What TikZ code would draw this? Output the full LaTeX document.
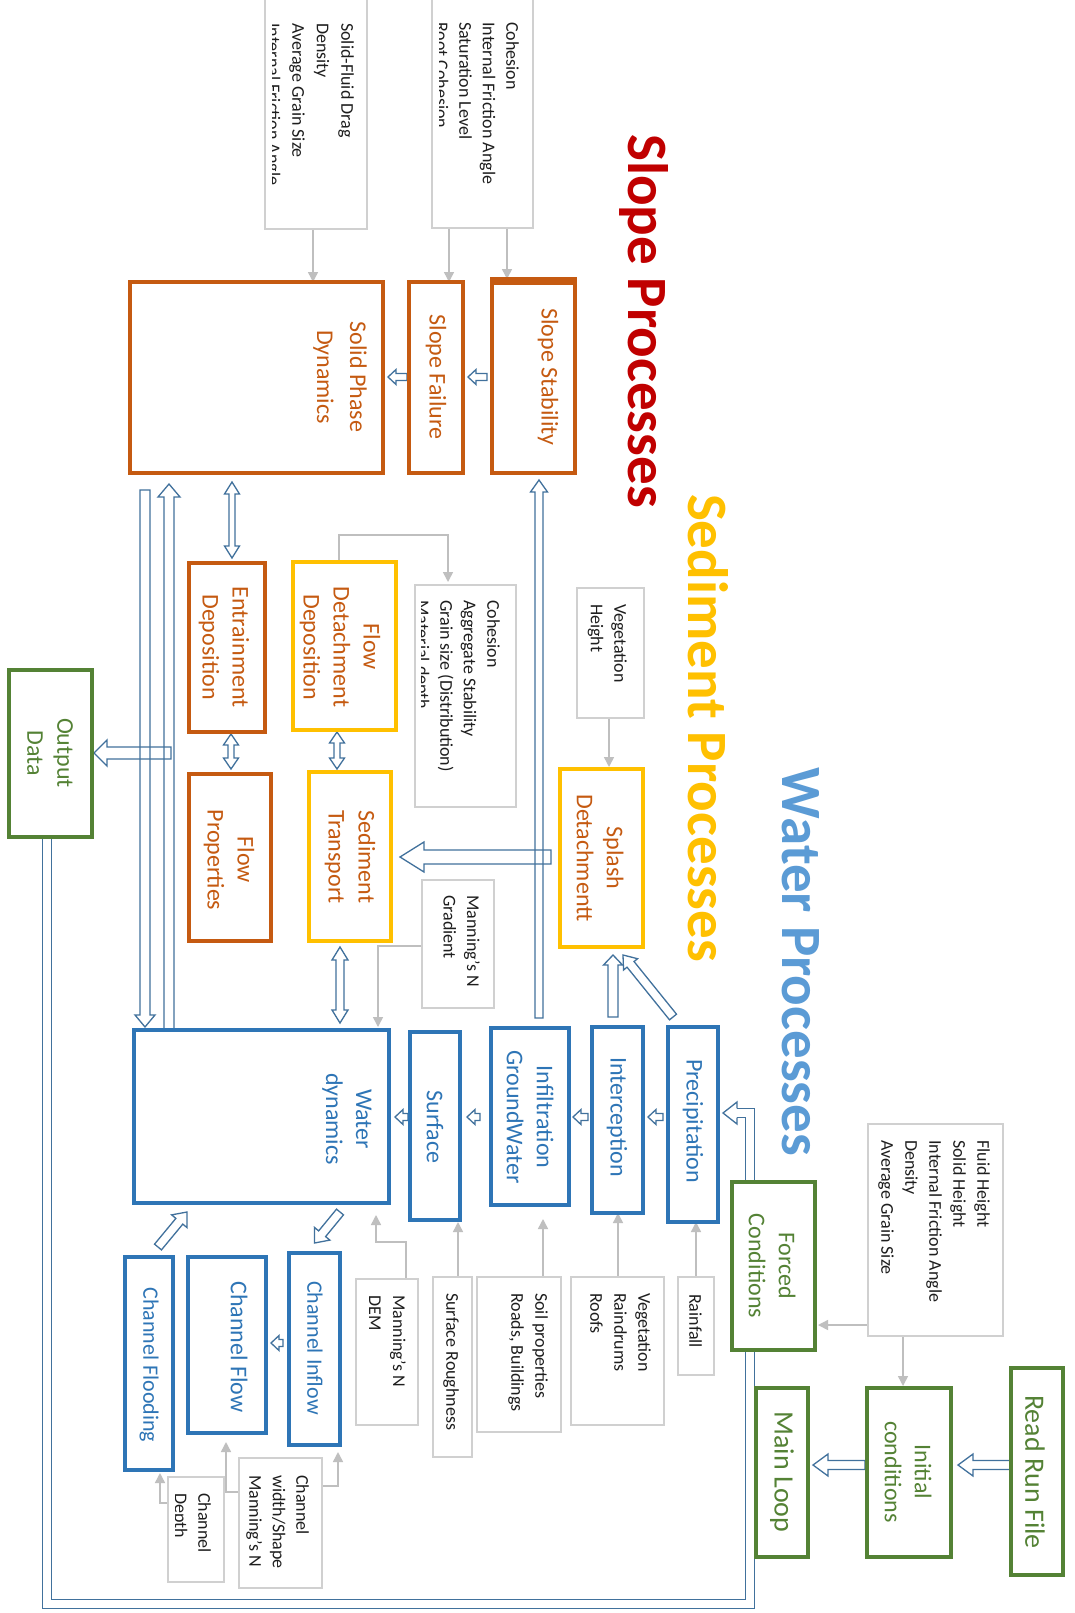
\documentclass[tikz,border=0pt]{standalone}
\usepackage{fontspec}
\setmainfont{Carlito}
\usetikzlibrary{calc,arrows.meta}
\pgfdeclarelayer{bg}
\pgfsetlayers{bg,main}
\definecolor{orC}{HTML}{C55A11}
\definecolor{yeC}{HTML}{FFC000}
\definecolor{blC}{HTML}{2E75B6}
\definecolor{grC}{HTML}{548235}
\definecolor{arC}{HTML}{41719C}
\definecolor{gyL}{HTML}{BFBFBF}
\definecolor{gyB}{HTML}{D0D0D0}
\definecolor{txD}{HTML}{1E1E1E}
\definecolor{slC}{HTML}{C00000}
\definecolor{waC}{HTML}{5B9BD5}
\tikzset{
 cbox/.style={draw=#1, line width=4pt, fill=white, inner sep=0pt, outer sep=0pt, rectangle},
 pbox/.style={draw=gyB, line width=1.2pt, fill=white, inner sep=0pt, outer sep=0pt, rectangle},
 lbl/.style={rotate=-90, inner sep=0pt, align=center, font=\fontsize{24}{30}\selectfont, text=#1},
 ptext/.style={rotate=-90, inner sep=0pt, align=left, anchor=north west, font=\fontsize{18}{23.5}\selectfont, text=txD},
 ttl/.style={rotate=-90, inner sep=0pt, font=\fontsize{57}{60}\selectfont\bfseries, text=#1},
 garrow/.style={draw=gyL, line width=1.5pt, -{Triangle[length=10pt,width=10pt]}},
 hline/.style={draw=arC, line width=1.3pt, line join=miter},
 dline/.style={draw=arC, line width=1.3pt, double=white, double distance=8pt, line join=miter},
}
\newcommand\boxat[6]{\node[#1, minimum width={#4-(#3)}, minimum height={#6-(#5)}] (#2) at ({(#3+#4)/2},{(#5+#6)/2}) {};}
% hollow arrow: start, end, shaft half, head half, head length, gap start, gap end
\newcommand\harrow[7]{%
\draw[hline] let \p1=#1, \p2=#2, \n1={veclen(\x2-\x1,\y2-\y1)}, \n2={(\x2-\x1)/\n1}, \n3={(\y2-\y1)/\n1} in
  ({\x1+#6*\n2-#3*\n3},{\y1+#6*\n3+#3*\n2}) --
  ({\x1+(\n1-#7-#5)*\n2-#3*\n3},{\y1+(\n1-#7-#5)*\n3+#3*\n2}) --
  ({\x1+(\n1-#7-#5)*\n2-#4*\n3},{\y1+(\n1-#7-#5)*\n3+#4*\n2}) --
  ({\x1+(\n1-#7)*\n2},{\y1+(\n1-#7)*\n3}) --
  ({\x1+(\n1-#7-#5)*\n2+#4*\n3},{\y1+(\n1-#7-#5)*\n3-#4*\n2}) --
  ({\x1+(\n1-#7-#5)*\n2+#3*\n3},{\y1+(\n1-#7-#5)*\n3-#3*\n2}) --
  ({\x1+#6*\n2+#3*\n3},{\y1+#6*\n3-#3*\n2}) -- cycle;}
\newcommand\dharrow[7]{%
\draw[hline] let \p1=#1, \p2=#2, \n1={veclen(\x2-\x1,\y2-\y1)}, \n2={(\x2-\x1)/\n1}, \n3={(\y2-\y1)/\n1}, \n4={#6}, \n5={\n1-#7} in
  ({\x1+\n4*\n2},{\y1+\n4*\n3}) --
  ({\x1+(\n4+#5)*\n2-#4*\n3},{\y1+(\n4+#5)*\n3+#4*\n2}) --
  ({\x1+(\n4+#5)*\n2-#3*\n3},{\y1+(\n4+#5)*\n3+#3*\n2}) --
  ({\x1+(\n5-#5)*\n2-#3*\n3},{\y1+(\n5-#5)*\n3+#3*\n2}) --
  ({\x1+(\n5-#5)*\n2-#4*\n3},{\y1+(\n5-#5)*\n3+#4*\n2}) --
  ({\x1+\n5*\n2},{\y1+\n5*\n3}) --
  ({\x1+(\n5-#5)*\n2+#4*\n3},{\y1+(\n5-#5)*\n3-#4*\n2}) --
  ({\x1+(\n5-#5)*\n2+#3*\n3},{\y1+(\n5-#5)*\n3-#3*\n2}) --
  ({\x1+(\n4+#5)*\n2+#3*\n3},{\y1+(\n4+#5)*\n3-#3*\n2}) --
  ({\x1+(\n4+#5)*\n2+#4*\n3},{\y1+(\n4+#5)*\n3-#4*\n2}) -- cycle;}
\begin{document}
\begin{tikzpicture}[x=1pt,y=-1pt]
\begin{pgfonlayer}{bg}
\fill[white] (0,0) rectangle (1074,1613);
\end{pgfonlayer}
\useasboundingbox (0,0) rectangle (1074,1613);

% titles
\node[ttl=slC] (tSlope) at (644,321) {Slope Processes};
\node[ttl=yeC] (tSed) at (708,728) {Sediment Processes};
\node[ttl=waC] (tWater) at (801,962) {Water Processes};

% coloured boxes
\boxat{cbox=orC}{spd}{130}{383}{282}{473}
\boxat{cbox=orC}{sf}{409}{463}{282}{473}
\boxat{cbox=orC}{ss}{492}{575}{279}{473}
\draw[draw=orC, line width=8pt] ([xshift=-2pt,yshift=-2pt]ss.north west) -- ([xshift=2pt,yshift=-2pt]ss.north east);
\boxat{cbox=orC}{ed}{189}{265}{563}{732}
\boxat{cbox=yeC}{fdd}{293}{396}{562}{730}
\boxat{cbox=orC}{fp}{189}{271}{774}{941}
\boxat{cbox=yeC}{st}{309}{391}{772}{941}
\boxat{cbox=yeC}{sd}{560}{643}{769}{947}
\boxat{cbox=grC}{od}{9}{92}{670}{837}
\boxat{cbox=blC}{pr}{668}{718}{1027}{1222}
\boxat{cbox=blC}{ic}{592}{643}{1027}{1213}
\boxat{cbox=blC}{ig}{491}{569}{1028}{1205}
\boxat{cbox=blC}{su}{410}{460}{1032}{1220}
\boxat{cbox=blC}{wd}{134}{389}{1030}{1203}
\boxat{cbox=grC}{fc}{732}{815}{1182}{1350}
\boxat{cbox=grC}{rr}{1011}{1063}{1368}{1575}
\boxat{cbox=grC}{ini}{867}{951}{1388}{1557}
\boxat{cbox=grC}{ml}{756}{808}{1388}{1557}
\boxat{cbox=blC}{ci}{289}{340}{1253}{1445}
\boxat{cbox=blC}{cf}{188}{266}{1257}{1433}
\boxat{cbox=blC}{cfl}{125}{173}{1257}{1470}

% parameter boxes
\boxat{pbox}{pA}{265}{367}{-5}{229}
\boxat{pbox}{pB}{432}{533}{-5}{228}
\boxat{pbox}{pC}{415}{516}{585}{807}
\boxat{pbox}{pV}{577}{644}{588}{718}
\boxat{pbox}{pM}{422}{494}{880}{1008}
\boxat{pbox}{pF}{868}{1003}{1124}{1336}
\boxat{pbox}{pR}{678}{714}{1277}{1375}
\boxat{pbox}{pVR}{571}{664}{1277}{1425}
\boxat{pbox}{pS}{477}{561}{1277}{1432}
\boxat{pbox}{pSR}{433}{472}{1277}{1457}
\boxat{pbox}{pD}{356}{418}{1279}{1425}
\boxat{pbox}{pCW}{239}{322}{1458}{1588}
\boxat{pbox}{pCD}{168}{224}{1477}{1582}

% box labels
\node[lbl=orC, font=\fontsize{24}{33}\selectfont] (spdT) at (340,377) {Solid Phase\\Dynamics};
\node[lbl=orC] (sfT) at (436,377) {Slope Failure};
\node[lbl=orC] (ssT) at (548,377) {Slope Stability};
\node[lbl=orC] (edT) at (224,647) {Entrainment\\Deposition};
\node[lbl=orC] (fddT) at (340,647) {Flow\\Detachment\\Deposition};
\node[lbl=orC] (fpT) at (229,860) {Flow\\Properties};
\node[lbl=orC] (stT) at (350,857) {Sediment\\Transport};
\node[lbl=orC] (sdT) at (600,858) {Splash\\Detachmentt};
\node[lbl=grC] (odT) at (50,753) {Output\\Data};
\node[lbl=blC] (prT) at (693,1121) {Precipitation};
\node[lbl=blC] (icT) at (617,1117) {Interception};
\node[lbl=blC] (igT) at (530,1117) {Infiltration\\GroundWater};
\node[lbl=blC] (suT) at (435,1127) {Surface};
\node[lbl=blC] (wdT) at (347,1119) {Water\\dynamics};
\node[lbl=grC] (fcT) at (772,1266) {Forced\\Conditions};
\node[lbl=grC, font=\fontsize{28}{34}\selectfont] (rrT) at (1035,1472) {Read Run File};
\node[lbl=grC] (iniT) at (908,1472) {Initial\\conditions};
\node[lbl=grC, font=\fontsize{28}{34}\selectfont] (mlT) at (782,1472) {Main Loop};
\node[lbl=blC, font=\fontsize{22}{28}\selectfont] (ciT) at (315,1348) {Channel Inflow};
\node[lbl=blC] (cfT) at (239,1347) {Channel Flow};
\node[lbl=blC, font=\fontsize{22}{28}\selectfont] (cflT) at (149,1365) {Channel Flooding};

% parameter texts
\begin{scope}
\clip ([xshift=7pt]pA.south west) rectangle (pA.north east);
\node[ptext, font=\fontsize{18}{24.5}\selectfont] (pAT) at (354,23) {Solid-Fluid Drag\\Density\\Average Grain Size\\Internal Friction Angle};
\end{scope}
\begin{scope}
\clip ([xshift=7pt]pB.south west) rectangle (pB.north east);
\node[ptext] (pBT) at (519,22) {Cohesion\\Internal Friction Angle\\Saturation Level\\Root Cohesion};
\end{scope}
\begin{scope}
\clip ([xshift=6pt]pC.south west) rectangle (pC.north east);
\node[ptext] (pCT) at (500,600) {Cohesion\\Aggregate Stability\\Grain size (Distribution)\\Material depth};
\end{scope}
\node[ptext] (pVT) at (627,604) {Vegetation\\Height};
\node[ptext] (pMT) at (480,895) {Manning’s N\\Gradient};
\node[ptext, font=\fontsize{18}{24}\selectfont] (pFT) at (990,1140) {Fluid Height\\Solid Height\\Internal Friction Angle\\Density\\Average Grain Size};
\node[ptext] (pRT) at (702,1294) {Rainfall};
\node[ptext, font=\fontsize{18}{24}\selectfont] (pVRT) at (651,1293) {Vegetation\\Raindrums\\Roofs};
\node[ptext, font=\fontsize{18}{24}\selectfont] (pST) at (548,1293) {Soil properties\\Roads, Buildings};
\node[ptext] (pSRT) at (459,1293) {Surface Roughness};
\node[ptext, font=\fontsize{18}{24}\selectfont] (pDT) at (406,1295) {Manning’s N\\DEM};
\node[ptext] (pCWT) at (309,1475) {Channel\\width/Shape\\Manning’s N};
\begin{scope}
\clip ([xshift=7pt]pCD.south west) rectangle (pCD.north east);
\node[ptext] (pCDT) at (211,1493) {Channel\\Depth};
\end{scope}

\coordinate (oda) at (171,753);
\coordinate (hb) at (737,1113);

\begin{pgfonlayer}{bg}
% grey parameter connectors
\draw[garrow] (313,0 |- pA.south) -- (313,0 |- spd.north);
\draw[garrow] (449,0 |- pB.south) -- (449,0 |- sf.north);
\draw[garrow] (507,0 |- pB.south) -- (507,0 |- ss.north);
\draw[garrow, shorten >=3pt] (339,0 |- fdd.north) -- ++(0,-27) -| (448,0 |- pC.north);
\draw[garrow, shorten >=2pt] (609,0 |- pV.south) -- (609,0 |- sd.north);
\draw[garrow, shorten >=3pt] (0,946 -| pM.west) -| (378,0 |- wd.north);
\draw[garrow] (696,0 |- pR.north) -- (696,0 |- pr.south);
\draw[garrow] (618,0 |- pVR.north) -- (618,0 |- ic.south);
\draw[garrow, shorten >=14pt] (543,0 |- pS.north) -- (543,0 |- ig.south);
\draw[garrow, shorten >=2pt] (458,0 |- pSR.north) -- (458,0 |- su.south);
\draw[garrow, shorten >=12pt] (406,0 |- pD.north) -- ++(0,-37) -| (376,0 |- wd.south);
\draw[garrow, shorten >=7pt] (0,1486 -| pCW.east) -| (338,0 |- ci.south);
\draw[garrow, shorten >=9pt] (0,1492 -| pCW.west) -| (226,0 |- cf.south);
\draw[garrow, shorten >=3pt] (0,1503 -| pCD.west) -| (160,0 |- cfl.south);
\draw[garrow, shorten >=3pt] (0,1325 -| pF.west) -- (0,1325 -| fc.east);
\draw[garrow, shorten >=2pt] (903,0 |- pF.south) -- (903,0 |- ini.north);

% hollow arrows
\harrow{(0,377 -| ss.west)}{(0,377 -| sf.east)}{3.5}{7.5}{8}{5}{5}
\harrow{(0,377 -| sf.west)}{(0,377 -| spd.east)}{3.5}{7.5}{8}{2}{5}
\harrow{(0,1117 -| pr.west)}{(0,1117 -| ic.east)}{3.5}{7.5}{8}{5}{5}
\harrow{(0,1117 -| ic.west)}{(0,1117 -| ig.east)}{3.5}{7.5}{8}{4}{4}
\harrow{(0,1117 -| ig.west)}{(0,1117 -| su.east)}{3.5}{7.5}{8}{11}{7}
\harrow{(0,1117 -| su.west)}{(0,1117 -| wd.east)}{3.5}{7.5}{8}{2}{6}
\harrow{(0,1343 -| ci.west)}{(0,1343 -| cf.east)}{3.5}{7.5}{8}{6}{5}
\harrow{(0,1465 -| ini.west)}{(0,1465 -| ml.east)}{4.5}{11}{15}{2}{5}
\harrow{(0,1465 -| rr.west)}{(0,1465 -| ini.east)}{4.5}{11}{15}{0}{7}
\harrow{(0,857 -| sd.west)}{(0,857 -| st.east)}{7}{15}{24}{9}{9}
\harrow{(539,0 |- ig.north)}{(539,0 |- ss.south)}{4}{8.5}{12}{10}{7}
\harrow{(145,0 |- spd.south)}{(145,0 |- wd.north)}{5}{10}{12}{17}{3}
\harrow{(169,0 |- wd.north)}{(169,0 |- spd.south)}{5}{11}{13}{0}{11}
\harrow{(oda)}{(0,753 -| od.east)}{6}{13}{13}{0}{2}
\harrow{(613,0 |- ic.north)}{(613,0 |- sd.south)}{5}{9.5}{10}{10}{8}
\harrow{($(pr.north west)+(5,-10)$)}{($(sd.south east)+(-20,8)$)}{4.5}{9}{12}{0}{0}
\harrow{($(wd.south east)+(-49,9)$)}{($(ci.north)+(0,-10)$)}{4.5}{10}{12}{0}{0}
\harrow{($(cfl.north)+(9,-10)$)}{($(wd.south west)+(53,9)$)}{4.5}{10}{12}{0}{0}
% double headed
\dharrow{(232,0 |- spd.south)}{(232,0 |- ed.north)}{3}{7.5}{12}{9}{5}
\dharrow{(231,0 |- ed.south)}{(231,0 |- fp.north)}{3}{7.5}{11}{2}{5}
\dharrow{(337,0 |- fdd.south)}{(337,0 |- st.north)}{3}{7.5}{11}{2}{3}
\dharrow{(340,0 |- st.south)}{(340,0 |- wd.north)}{4}{8}{13}{6}{7}
% main loop return line
\draw[dline] (47,0 |- od.south) -- (47,1604) -- (750,1604) -- (750,1113) -- (hb);
\draw[hline] ($(hb)+(0,-4.65)$) -- ($(hb)+(0,-11)$) -- ($(0,1113 -| pr.east)+(5,0)$) -- ($(hb)+(0,11)$) -- ($(hb)+(0,4.65)$);
\end{pgfonlayer}
\end{tikzpicture}
\end{document}
